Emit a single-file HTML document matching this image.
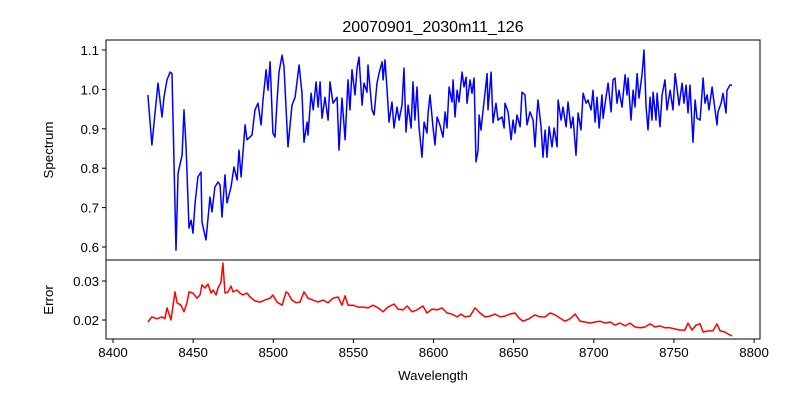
<!DOCTYPE html>
<html><head><meta charset="utf-8"><style>
html,body{margin:0;padding:0;background:#fff}
svg{display:block;font-family:"Liberation Sans",sans-serif}
</style></head><body>
<svg id="chart" width="800" height="400" viewBox="0 0 800 400" xmlns="http://www.w3.org/2000/svg">
<rect width="800" height="400" fill="#fff"/>
<text x="433" y="32" font-size="16" text-anchor="middle">20070901_2030m11_126</text>
<text x="0" y="0" font-size="13.3" text-anchor="middle" transform="translate(53,150) rotate(-90)">Spectrum</text>
<text x="0" y="0" font-size="13.3" text-anchor="middle" transform="translate(53,300) rotate(-90)">Error</text>
<text x="433" y="380" font-size="13.3" text-anchor="middle">Wavelength</text>
<g id="g"></g>
</svg>
<script>
const specW=[8421.8,8424.3,8426.8,8428.1,8430.6,8431.8,8433.7,8435.6,8436.8,8439.3,8440.6,8443.1,8444.3,8445.6,8447.4,8448.7,8449.9,8451.2,8453.0,8454.9,8455.5,8458.0,8460.5,8461.8,8463.6,8465.5,8466.8,8468.0,8469.9,8471.1,8473.6,8475.5,8477.4,8478.6,8479.9,8482.4,8483.6,8486.7,8488.6,8490.5,8492.4,8493.6,8495.5,8496.7,8498.0,8499.8,8501.1,8502.3,8503.6,8505.5,8506.7,8509.2,8511.7,8513.6,8516.1,8517.9,8519.2,8521.1,8521.7,8523.6,8524.9,8526.7,8528.0,8529.2,8530.4,8532.3,8534.2,8535.4,8537.3,8539.8,8541.0,8542.9,8544.8,8546.6,8547.9,8549.1,8551.0,8552.3,8553.5,8555.4,8556.6,8558.5,8559.1,8561.6,8562.9,8564.7,8566.0,8567.9,8568.5,8569.7,8571.0,8572.2,8574.1,8575.3,8577.2,8578.5,8580.3,8581.6,8582.8,8584.1,8586.0,8587.2,8588.4,8589.7,8590.9,8592.8,8594.1,8595.9,8596.6,8597.8,8599.7,8600.9,8602.2,8604.0,8605.9,8607.2,8608.4,8609.7,8611.5,8612.2,8613.4,8614.7,8615.9,8617.8,8619.0,8620.3,8620.9,8622.8,8624.0,8625.3,8626.5,8627.8,8628.4,8629.6,8630.9,8632.1,8633.4,8634.0,8635.9,8637.1,8639.0,8640.2,8642.7,8644.0,8644.6,8646.5,8648.4,8649.6,8650.8,8652.1,8654.0,8655.2,8657.1,8658.3,8660.2,8662.1,8663.3,8664.6,8665.2,8667.1,8668.3,8669.6,8670.8,8672.1,8673.9,8675.2,8677.1,8677.7,8679.6,8680.8,8682.7,8683.9,8685.8,8687.0,8688.9,8690.2,8692.0,8693.3,8695.2,8696.4,8698.3,8699.5,8700.8,8702.0,8703.3,8705.1,8705.8,8707.6,8708.9,8710.8,8712.0,8713.2,8714.5,8715.7,8717.6,8719.5,8720.7,8721.4,8723.2,8724.5,8725.7,8727.0,8728.2,8730.1,8731.3,8732.6,8733.8,8735.1,8736.3,8737.0,8738.8,8739.5,8741.3,8742.6,8744.4,8745.7,8747.6,8749.4,8750.7,8751.9,8753.2,8755.1,8756.3,8757.6,8758.8,8760.0,8761.9,8763.2,8764.4,8766.3,8768.2,8769.4,8770.7,8771.9,8773.8,8775.0,8776.9,8777.5,8779.4,8780.6,8782.5,8783.1,8785.0,8786.3];
const specV=[.986,.859,.965,1.016,.93,.98,1.024,1.044,1.04,.592,.788,.833,.948,.854,.648,.668,.635,.712,.778,.79,.663,.618,.727,.689,.752,.765,.757,.676,.783,.712,.752,.803,.77,.846,.778,.91,.872,.884,.948,.965,.91,.973,1.05,.998,1.07,.889,.879,.968,1.044,1.087,1.057,.854,.96,.98,1.062,.99,.866,.917,.884,.99,.948,1.019,.955,1.019,.927,.98,.922,1.019,.965,.98,.846,.978,.872,1.024,.948,1.05,.986,1.054,1.082,.96,1.016,.993,1.062,.948,.935,1.016,1.04,1.07,1.024,1.075,.998,.917,.968,.902,.955,.922,.96,1.054,.892,.96,.902,1.019,.922,1.006,.905,.828,.917,.889,.94,.986,.902,.859,.93,.91,.879,.943,.902,1.006,.968,1.024,.93,.998,.968,1.044,1.006,1.031,.965,1.024,.99,1.029,.816,.846,.935,.897,.948,.99,1.04,.948,1.044,.915,.965,.922,.93,.902,.965,.943,.872,.922,.889,.935,.905,.993,.986,.91,.943,.922,.854,.943,.973,.905,.828,.897,.828,.905,.854,.902,.854,.973,.922,.955,.905,.968,.902,.93,.833,.94,.897,.99,.965,.973,.948,.998,.917,.98,.902,.986,.927,.98,1.016,.943,1.024,1.029,.965,.998,.955,1.037,.986,1.029,.922,.998,.955,1.04,.978,1.037,1.1,.955,.897,.98,.922,.993,.922,.99,.905,.986,1.024,.948,.998,.948,1.04,1.003,.96,1.016,.965,1.011,.94,1.011,.866,.973,.927,.922,1.029,.965,.986,.948,1.006,.968,.91,.943,.965,.99,.94,.998,1.011,1.011];
const errW=[8421.8,8424.3,8427.5,8430.6,8432.4,8433.7,8436.2,8438.7,8439.9,8442.4,8444.3,8446.2,8447.4,8449.9,8452.4,8454.3,8455.5,8457.4,8459.3,8461.2,8462.4,8464.3,8465.5,8467.4,8468.6,8469.9,8471.8,8473.6,8474.9,8477.4,8479.2,8481.1,8483.6,8485.5,8488.6,8491.7,8494.8,8498.0,8499.8,8502.3,8505.5,8508.0,8509.2,8511.7,8514.2,8516.7,8519.2,8521.7,8524.8,8527.9,8531.0,8534.2,8537.3,8540.4,8542.9,8544.8,8546.6,8549.8,8552.9,8556.0,8559.1,8562.2,8565.4,8568.5,8571.6,8575.3,8577.8,8581.0,8583.5,8586.6,8589.7,8593.4,8595.9,8599.1,8602.2,8605.3,8608.4,8611.5,8614.7,8617.2,8619.6,8622.8,8625.9,8629.0,8632.1,8635.2,8638.4,8641.5,8644.6,8647.7,8650.8,8653.3,8655.8,8659.6,8663.3,8666.4,8669.6,8672.7,8675.8,8678.9,8682.0,8685.2,8688.3,8691.4,8694.5,8697.6,8700.8,8703.9,8707.0,8710.1,8713.2,8716.4,8719.5,8722.6,8725.7,8728.8,8732.0,8735.1,8738.2,8741.3,8744.4,8747.6,8750.7,8753.8,8756.9,8758.8,8761.3,8763.8,8766.3,8768.2,8771.3,8774.4,8776.9,8778.8,8781.9,8783.8,8786.3];
const errV=[.0195,.0208,.0203,.0208,.0203,.0231,.020,.0272,.0244,.0238,.0221,.0244,.0272,.0269,.0256,.0264,.029,.0282,.0292,.0269,.0277,.0264,.0282,.0297,.0346,.0269,.0272,.0287,.0272,.0277,.0269,.0264,.0269,.0259,.0249,.0246,.0251,.0256,.0264,.0246,.0238,.0272,.0269,.0251,.0244,.0246,.0272,.0256,.0251,.0246,.0251,.0244,.0256,.0259,.0238,.0262,.0238,.0238,.0233,.0233,.0231,.0238,.0231,.0221,.0233,.0241,.0228,.0226,.0236,.0221,.0226,.0236,.0218,.0228,.0226,.0231,.0218,.0215,.0208,.0215,.0208,.021,.0231,.0218,.0208,.021,.0215,.0208,.021,.0215,.0218,.0205,.0197,.0203,.0213,.0208,.0208,.0218,.0213,.0205,.0197,.0203,.0215,.0197,.0195,.0192,.0195,.0197,.0192,.0195,.0187,.0192,.0185,.0192,.0182,.018,.0182,.019,.0182,.0185,.018,.018,.0177,.0174,.0174,.0192,.0174,.0187,.019,.0169,.0172,.0172,.019,.0172,.0169,.0164,.0159];
const xTicks=[8400,8450,8500,8550,8600,8650,8700,8750,8800];
const specTicks=[0.6,0.7,0.8,0.9,1.0,1.1];
const errTicks=[0.02,0.03];

const NS="http://www.w3.org/2000/svg";
const g=document.getElementById('g');
const L=106,R=760,T1=40,B1=260,T2=260,B2=339;
const xMin=8395.63,xMax=8803.7;
const sMin=0.567,sMax=1.1254,eMin=0.01513,eMax=0.03538;
function X(w){return L+(w-xMin)/(xMax-xMin)*(R-L);}
function YS(v){return B1-(v-sMin)/(sMax-sMin)*(B1-T1);}
function YE(v){return B2-(v-eMin)/(eMax-eMin)*(B2-T2);}
function mk(tag,attrs){const e=document.createElementNS(NS,tag);for(const k in attrs)e.setAttribute(k,attrs[k]);g.appendChild(e);return e;}

const p1=mk('polyline',{fill:'none',stroke:'#0000ff','stroke-width':1.5,'stroke-linejoin':'round',points:specW.map((w,i)=>X(w).toFixed(1)+','+YS(specV[i]).toFixed(1)).join(' ')});


const p2=mk('polyline',{fill:'none',stroke:'#ff0000','stroke-width':1.5,'stroke-linejoin':'round',points:errW.map((w,i)=>X(w).toFixed(1)+','+YE(errV[i]).toFixed(1)).join(' ')});



const f1=mk('rect',{x:L,y:T1,width:R-L,height:B1-T1,fill:'none',stroke:'#000','stroke-width':1});


const f2=mk('rect',{x:L,y:T2,width:R-L,height:B2-T2,fill:'none',stroke:'#000','stroke-width':1});



xTicks.forEach(t=>{const x=X(t);
 const l=mk('line',{x1:x,x2:x,y1:B2,y2:B2+4,stroke:'#000'});
 
 
 const tx=mk('text',{x:x,y:B2+18,'font-size':13.3,'text-anchor':'middle'});tx.textContent=t;
 
 
});
specTicks.forEach(t=>{const y=YS(t);
 const l=mk('line',{x1:L-4,x2:L,y1:y,y2:y,stroke:'#000'});
 
 
 const tx=mk('text',{x:L-7,y:y+5,'font-size':13.3,'text-anchor':'end'});tx.textContent=t.toFixed(1);
 
 
});
errTicks.forEach(t=>{const y=YE(t);
 const l=mk('line',{x1:L-4,x2:L,y1:y,y2:y,stroke:'#000'});
 
 
 const tx=mk('text',{x:L-7,y:y+5,'font-size':13.3,'text-anchor':'end'});tx.textContent=t.toFixed(2);
 
 
});
</script>
</body></html>
